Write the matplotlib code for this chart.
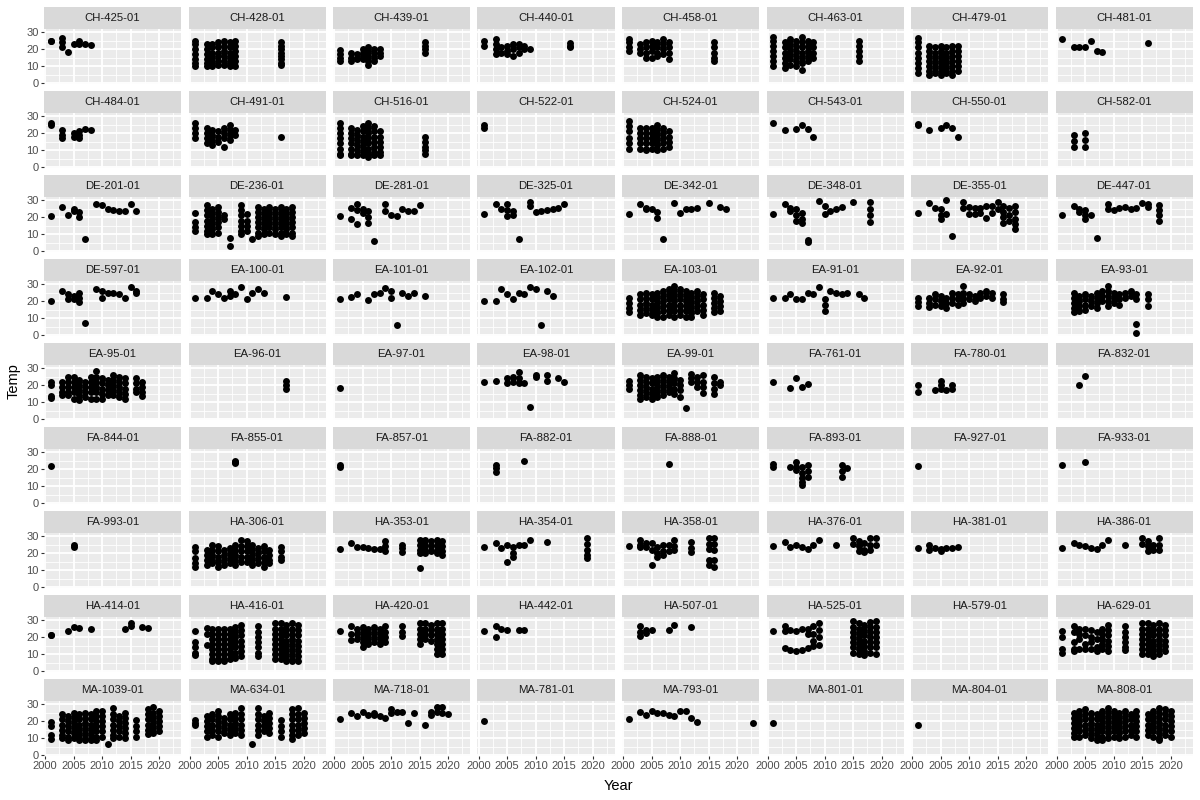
import matplotlib
matplotlib.use("Agg")
import matplotlib.pyplot as plt

# each site: list of (year, [temps measured that year])
ch_425 = [(2001, [25, 24.5]), (2003, [26.5, 24, 21.5]), (2004, [18.6]), (2005, [23]), (2006, [25, 23]), (2007, [23]), (2008, [22.5])]
ch_428 = [(2001, [25, 23, 20, 17, 14, 12, 10]), (2003, [23, 20, 17, 14, 12, 10]), (2004, [23, 21, 18, 15, 12, 10]), (2005, [24, 21, 18, 16, 13, 11]),
          (2006, [25, 22, 19, 16, 13, 11]), (2007, [24, 21, 18, 15, 12, 10]), (2008, [25, 22, 19, 16, 13, 10]), (2016, [24, 22, 20, 18, 16, 14, 12, 11])]
ch_439 = [(2001, [19.5, 17, 15, 13]), (2003, [18, 15, 13]), (2004, [17, 15, 14]), (2005, [20, 18, 16, 14]), (2006, [21, 19, 16, 13, 11]),
          (2007, [20, 18, 15, 13]), (2008, [20, 18, 16]), (2016, [24, 22, 20, 18])]
ch_440 = [(2001, [25, 22]), (2003, [26, 23, 20, 17]), (2004, [21, 18]), (2005, [22, 19, 17]), (2006, [23, 20, 16]), (2007, [23, 21, 18]),
          (2008, [22, 20]), (2009, [20]), (2016, [23.5, 22, 21])]
ch_458 = [(2001, [26, 24, 21, 19]), (2003, [23, 20, 18]), (2004, [24, 21, 18, 15]), (2005, [25, 22, 19, 15]), (2006, [24, 21, 18, 16]),
          (2007, [26, 23, 20, 17]), (2008, [24, 21, 18, 14]), (2016, [24, 21, 18, 15, 13])]
ch_463 = [(2001, [27, 25, 22, 19, 16, 13, 10]), (2003, [24, 21, 18, 15, 12, 9]), (2004, [26, 23, 20, 17, 14, 11]), (2005, [25, 22, 19, 16, 13, 10]),
          (2006, [27, 24, 21, 18, 15, 12, 8]), (2007, [25, 22, 19, 16, 13]), (2008, [24, 21, 18, 15]), (2016, [25, 22, 19, 16, 13])]
ch_479 = [(2001, [26.5, 24, 21, 18, 15, 12, 9, 6]), (2003, [22, 19, 16, 13, 10, 7, 5]), (2004, [21, 18, 15, 12, 9, 6]), (2005, [22, 19, 16, 13, 10, 7, 5]),
          (2006, [21, 18, 15, 12, 9, 6]), (2007, [22, 19, 16, 13, 10, 7, 5]), (2008, [22, 19, 16, 13, 10, 7])]
ch_481 = [(2001, [26]), (2003, [21.5]), (2004, [21]), (2005, [21.5]), (2006, [25]), (2007, [19]), (2008, [18.6]), (2016, [23.5])]

ch_484 = [(2001, [26, 24.5]), (2003, [22, 19, 17]), (2005, [20, 18]), (2006, [21, 19, 17]), (2007, [22.5]), (2008, [21.7])]
ch_491 = [(2001, [26, 23, 20, 17]), (2003, [23, 20, 17, 14]), (2004, [22, 19, 16, 13]), (2005, [21, 18, 15]), (2006, [23, 20, 17, 12]),
          (2007, [25, 22, 19, 16]), (2008, [22, 19]), (2016, [18])]
ch_516 = [(2001, [26, 23, 20, 17, 14, 11, 8, 7]), (2003, [23, 20, 17, 14, 11, 8, 7]), (2004, [22, 19, 16, 13, 10, 7]), (2005, [24, 21, 18, 15, 12, 9, 7]),
          (2006, [26, 23, 20, 17, 14, 11, 8, 6]), (2007, [24, 21, 18, 15, 12, 9, 7]), (2008, [21, 18, 15, 12, 9, 7]), (2016, [18, 15, 12, 10, 8])]
ch_522 = [(2001, [24.5, 23])]
ch_524 = [(2001, [27, 24, 21, 17, 14, 11]), (2003, [23, 20, 17, 14, 11]), (2004, [23, 20, 17, 14, 11, 10]), (2005, [23, 20, 17, 14, 11]),
          (2006, [25, 22, 19, 16, 13, 10]), (2007, [23, 20, 17, 14, 11]), (2008, [21, 18, 15, 12])]
ch_543 = [(2001, [26]), (2003, [21.7]), (2005, [22.7]), (2006, [25]), (2007, [22.5]), (2008, [18])]
ch_550 = [(2001, [25.6, 25]), (2003, [21.7]), (2005, [23]), (2006, [25]), (2007, [23]), (2008, [18])]
ch_582 = [(2003, [19, 15.5, 12]), (2005, [20, 16, 12])]

de_201 = [(2001, [20.7]), (2003, [26.2]), (2004, [21]), (2005, [24.6, 23.7]), (2006, [23, 20.3]), (2007, [7.5]), (2009, [27.6]), (2010, [27]),
          (2011, [24.6]), (2012, [24.2]), (2013, [23.7]), (2014, [23.5]), (2015, [27.6]), (2016, [23.7])]
de_236 = [(2001, [22.7, 17, 14, 12]), (2003, [27, 24, 21, 18, 15, 12, 10]), (2004, [25, 22, 19, 16, 13, 10]), (2005, [26, 23, 20, 17, 14, 11]),
          (2006, [21, 19]), (2007, [8, 3]), (2009, [27, 24, 21, 18, 15, 12, 10]), (2010, [22, 18, 15, 12]), (2011, [7]),
          (2012, [26, 23, 20, 17, 14, 11, 9]), (2013, [25, 22, 19, 16, 13, 10]), (2014, [26, 23, 20, 17, 14, 11]), (2015, [25, 22, 19, 16, 13, 10]),
          (2016, [26, 23, 20, 17, 14, 11, 9]), (2017, [25, 22, 19, 16, 13, 10]), (2018, [26, 23, 20, 17, 14, 11, 9])]
de_281 = [(2001, [20.7]), (2003, [25.6, 18.7]), (2004, [27.6, 24, 16]), (2005, [24.6, 22.7]), (2006, [23.7, 20, 16.8]), (2007, [6.3]),
          (2009, [27.6, 23.7]), (2010, [21]), (2011, [20.7]), (2012, [25]), (2013, [23.7]), (2014, [23.7]), (2015, [27])]
de_325 = [(2001, [21.7]), (2003, [27.6]), (2004, [24.6]), (2005, [27.6, 24, 20.7]), (2006, [23.5, 21]), (2007, [7.5]), (2009, [28.6, 26.6]),
          (2010, [23]), (2011, [23.7]), (2012, [24]), (2013, [24.6]), (2014, [25.6]), (2015, [27.6])]
de_342 = [(2001, [21.7]), (2003, [27.6]), (2004, [25.6, 24.6]), (2005, [24.6]), (2006, [23, 19.7]), (2007, [7.3]), (2009, [28]), (2010, [22.7]),
          (2011, [24.6]), (2012, [25]), (2013, [25.6]), (2015, [28]), (2017, [26.2]), (2018, [25])]
de_348 = [(2001, [21.7]), (2003, [27.6]), (2004, [25.6, 23.7]), (2005, [24.6, 21, 17.8]), (2006, [22.7, 19, 16.8]), (2007, [6.9, 5.5]),
          (2009, [29.6]), (2010, [26.6, 21.7]), (2011, [23.7]), (2012, [25]), (2013, [26]), (2015, [28.6]), (2018, [29, 25, 21, 17])]
de_355 = [(2001, [22.7]), (2003, [28.2]), (2004, [25.6]), (2005, [24.6, 21.5, 18.7]), (2006, [30, 21.7]), (2007, [8.9]), (2009, [28.6, 25.6]),
          (2010, [26, 21.7]), (2011, [25.6, 21.7]), (2012, [25.6, 22.7]), (2013, [26.6, 19.7]), (2014, [26.6, 22.7]), (2015, [28.6, 24.6]),
          (2016, [26.6, 23, 20, 16.8]), (2017, [25.6, 21.5, 17.8]), (2018, [26.6, 23, 19, 16, 12.8])]
de_447 = [(2001, [21.3]), (2003, [26.7]), (2004, [25, 23]), (2005, [24, 21, 19]), (2006, [21.3]), (2007, [8]), (2009, [27.5, 25]), (2010, [24]),
          (2011, [25.5]), (2012, [26.2]), (2013, [25]), (2014, [25.5]), (2015, [28]), (2016, [27.5, 26]), (2018, [27, 24, 21, 17.5])]

de_597 = [(2001, [19.9]), (2003, [26]), (2004, [24, 21]), (2005, [23, 21.5]), (2006, [25, 22, 19.3]), (2007, [7.2]), (2009, [27]), (2010, [26, 22]),
          (2011, [25]), (2012, [25]), (2013, [24]), (2014, [22]), (2015, [28]), (2016, [26, 24.5])]
ea_100 = [(2001, [21.8]), (2003, [22]), (2004, [26]), (2005, [24]), (2006, [21.8]), (2007, [26, 23]), (2008, [24]), (2009, [28]), (2010, [21.5]),
          (2011, [24.7]), (2012, [27]), (2013, [25]), (2017, [22.2])]
ea_101 = [(2001, [21.2]), (2003, [22.2]), (2004, [24]), (2006, [20.8]), (2007, [24]), (2008, [25]), (2009, [27.5]), (2010, [26, 22]), (2011, [6.2]),
          (2012, [25]), (2013, [23]), (2014, [25]), (2016, [23])]
ea_102 = [(2001, [20.3]), (2003, [20.3]), (2004, [27]), (2005, [24]), (2006, [21.2]), (2007, [24.7]), (2008, [24]), (2009, [28]), (2010, [27]),
          (2011, [6]), (2012, [26]), (2013, [23])]
ea_103 = [(2001, [22, 19, 16, 13.5]), (2003, [24, 21, 18, 15, 12]), (2004, [25, 22, 19, 16, 13]), (2005, [24, 21, 18, 15, 12]),
          (2006, [25, 22, 19, 16, 13, 11]), (2007, [26, 23, 20, 17, 14, 11]), (2008, [27, 24, 21, 18, 15, 12]), (2009, [29, 26, 23, 20, 17, 14, 11]),
          (2010, [27, 24, 21, 18, 15, 12]), (2011, [26, 23, 20, 17, 14, 11]), (2012, [25, 22, 19, 16, 13, 10.5]), (2013, [26, 23, 20, 17, 14]),
          (2014, [24, 21, 18, 15, 12]), (2016, [25, 22, 19, 16, 13.5]), (2017, [23, 20, 17, 14])]
ea_91 = [(2001, [22]), (2003, [22]), (2004, [24]), (2005, [21]), (2006, [21.5]), (2007, [24.7]), (2008, [24]), (2009, [28]), (2010, [21, 18, 14]),
         (2011, [26]), (2012, [24.7]), (2013, [24]), (2014, [24.7]), (2016, [24]), (2017, [21.6])]
ea_92 = [(2001, [22, 19.5, 17.3]), (2003, [22, 19, 16.4]), (2004, [24, 21, 18]), (2005, [23, 20, 17]), (2006, [22, 19, 16]), (2007, [25, 22, 19]),
         (2008, [24, 21, 18]), (2009, [29, 25, 22, 19]), (2010, [24, 21]), (2011, [23, 20]), (2012, [25, 22]), (2013, [26, 23]), (2014, [25, 22]),
         (2016, [24, 21.5, 19.3])]
ea_93 = [(2003, [25, 22, 19, 16, 13.5]), (2004, [23, 20, 17, 14]), (2005, [24, 21, 18, 15]), (2006, [23, 20, 17]), (2007, [25, 22, 19, 16]),
         (2008, [26, 23, 20]), (2009, [29, 26, 23, 20, 17]), (2010, [25, 22, 19]), (2011, [24, 21, 18]), (2012, [25, 22]), (2013, [26, 23]),
         (2014, [24, 21, 6.6, 1.2]), (2016, [24, 21, 17.3])]

ea_95 = [(2001, [22, 20, 13.5, 12.5]), (2003, [22, 19, 16, 14]), (2004, [25, 22, 19, 16, 14]), (2005, [25, 22, 19, 16, 12]), (2006, [23, 20, 17, 14, 11.5]),
         (2007, [22, 19, 16, 13]), (2008, [25, 22, 19, 16, 12]), (2009, [28, 25, 22, 19, 16, 12]), (2010, [24, 21, 18, 15, 12]), (2011, [23, 20, 17, 14]),
         (2012, [26, 23, 20, 17, 14]), (2013, [25, 22, 19, 16, 13]), (2014, [24, 21, 18, 15, 12]), (2016, [24, 21, 18, 16]), (2017, [22, 19, 16, 13.5])]
ea_96 = [(2017, [22.5, 20, 18])]
ea_97 = [(2001, [18.4])]
ea_98 = [(2001, [22]), (2003, [22.7]), (2005, [24, 21]), (2006, [25, 22]), (2007, [27.6, 24, 21]), (2008, [21]), (2009, [7.1]), (2010, [26, 25]),
         (2012, [25.7, 22.7]), (2014, [24]), (2015, [21.8])]
ea_99 = [(2001, [22.7, 20, 17.8]), (2003, [26, 23, 20, 17, 14, 12]), (2004, [25, 22, 19, 16, 13]), (2005, [24, 21, 18, 15, 12]), (2006, [25, 22, 19, 16, 13]),
         (2007, [26, 23, 20, 17, 14]), (2008, [25, 22, 19, 16]), (2009, [27, 24, 21, 18, 15]), (2010, [23, 20, 17, 13]), (2011, [6.7]),
         (2012, [26.6, 24, 21.8]), (2013, [25, 22, 19]), (2014, [26, 22, 19, 15.5]), (2016, [24.7, 21, 18, 14.9]), (2017, [22, 20])]
fa_761 = [(2001, [21.8]), (2004, [18.4]), (2005, [24]), (2006, [18.8]), (2007, [20.8])]
fa_780 = [(2001, [19.8, 16]), (2004, [17]), (2005, [22.7, 20, 17.8]), (2006, [17]), (2007, [19.8, 17.8])]
fa_832 = [(2004, [20.2]), (2005, [25.1])]

fa_844 = [(2001, [21.7])]
fa_855 = [(2008, [25, 24, 23.5])]
fa_857 = [(2001, [22.3, 21])]
fa_882 = [(2003, [22.3, 20.5, 18.4]), (2008, [24.8])]
fa_888 = [(2008, [23])]
fa_893 = [(2001, [23.3, 21.5]), (2004, [21]), (2005, [24.3, 21, 19.4]), (2006, [21.4, 18, 15, 12.5, 10.7]), (2007, [22.3, 19, 15.5]),
          (2013, [22.3, 19, 15.5]), (2014, [20.4])]
fa_927 = [(2001, [21.7])]
fa_933 = [(2001, [22.7]), (2005, [24.3])]

fa_993 = [(2005, [25, 23.5])]
ha_306 = [(2001, [23.7, 21, 17, 14, 12]), (2003, [22, 19, 16, 13]), (2004, [25, 22, 19, 16, 14]), (2005, [24, 21, 18, 15, 12]), (2006, [22, 19, 16, 13]),
          (2007, [23, 20, 17, 14]), (2008, [25, 22, 19, 16, 13]), (2009, [27.6, 24, 21, 18, 15]), (2010, [27, 24, 21, 18, 15]), (2011, [25, 22, 19, 16, 13]),
          (2012, [23, 20, 17, 14]), (2013, [24, 21, 18, 15, 12]), (2014, [22, 19, 16, 14]), (2016, [23.7, 21, 18, 15.9])]
ha_353 = [(2001, [22.7]), (2003, [25.7]), (2004, [23.7]), (2005, [23.7]), (2006, [23]), (2007, [22.2]), (2008, [22.2]), (2009, [27, 24, 21]),
          (2012, [25, 23, 20.8]), (2015, [27.6, 25, 22, 19.8, 11.4]), (2016, [27.6, 25, 22, 19.8]), (2017, [27, 24, 21]), (2018, [27.6, 25, 22, 20]),
          (2019, [27, 24, 21, 18.8])]
ha_354 = [(2001, [23.7]), (2003, [25.7]), (2004, [23.1]), (2005, [25, 15]), (2006, [23.7, 20, 17.8]), (2007, [24.7]), (2008, [25]), (2009, [27.6]),
          (2012, [26.3]), (2019, [28.6, 25.5, 22, 19, 16.9])]
ha_358 = [(2001, [24]), (2003, [27.6, 25, 23.7]), (2004, [25.7, 23.7]), (2005, [25.7, 22, 12.9]), (2006, [23.7, 20, 17.8]), (2007, [24.7, 21, 18.8]),
          (2008, [24.7, 21]), (2009, [27.6, 24, 21.8]), (2012, [26.6, 23, 20.8]), (2015, [28.6, 25.5, 22.5, 15.9, 13]), (2016, [28.6, 25.5, 22, 16, 12])]
ha_376 = [(2001, [24.3]), (2003, [26.7]), (2004, [23.7]), (2005, [25]), (2006, [23.7]), (2007, [22.4]), (2008, [25]), (2009, [27.6]), (2012, [25]),
          (2015, [28.6, 25.5]), (2016, [27, 24, 21]), (2017, [26, 22, 20.8]), (2018, [28.6, 25, 22]), (2019, [28.6, 25])]
ha_381 = [(2001, [23.3]), (2003, [25, 21.8]), (2004, [23]), (2005, [22.5, 21.5]), (2006, [23]), (2007, [23]), (2008, [23.7])]
ha_386 = [(2001, [23.1]), (2003, [25.7]), (2004, [24.7]), (2005, [24.3]), (2006, [23.1]), (2007, [22.2]), (2008, [24.7]), (2009, [27.6]), (2012, [25]),
          (2015, [28.6, 25.5]), (2016, [27, 24, 21]), (2017, [25, 22]), (2018, [28.6, 25, 22])]

ha_414 = [(2001, [21.5, 21]), (2004, [23.8]), (2005, [25.8]), (2006, [25.4]), (2008, [25]), (2014, [25]), (2015, [28.3, 26.4]), (2017, [25.8]), (2018, [25.4])]
ha_416 = [(2001, [23.4, 17, 14, 11, 9.8]), (2003, [25.5, 22, 15.5]), (2004, [25, 22, 19, 16, 13, 10, 7.5, 6]), (2005, [25, 22, 19, 16, 13, 10, 7, 5.9]),
          (2006, [25, 22, 19, 16, 13, 10, 7, 6]), (2007, [25, 22, 19, 16, 13, 10, 7]), (2008, [26, 23, 20, 17, 14, 11, 8]), (2009, [27, 24, 21, 18, 15, 12, 9]),
          (2012, [26.4, 23, 20, 17, 14, 11, 8.8]), (2015, [28.3, 25, 22, 19, 16, 13, 10, 7]), (2016, [28, 25, 22, 19, 16, 13, 10, 7]),
          (2017, [27, 24, 21, 18, 15, 12, 9, 6]), (2018, [28.3, 25, 22, 19, 16, 13, 10, 7, 5.9]), (2019, [27, 24, 21, 18, 15, 12, 9, 6])]
ha_420 = [(2001, [23.4]), (2003, [26.4, 22, 18.6]), (2004, [25, 22, 19]), (2005, [26, 23, 20, 17, 14]), (2006, [25, 22, 19, 16]), (2007, [26, 23, 20, 17]),
          (2008, [25, 22, 19, 16]), (2009, [26.4, 23, 20, 17]), (2012, [26.4, 23, 20.5]), (2015, [28.3, 25, 22, 19, 16]), (2016, [28, 25, 22, 19]),
          (2017, [27, 24, 21, 18]), (2018, [28.3, 25, 22, 19, 16, 13, 10]), (2019, [28, 25, 22, 19, 16, 13, 10])]
ha_442 = [(2001, [23.8]), (2003, [26.4, 19.9]), (2004, [25]), (2005, [24.4]), (2007, [24]), (2008, [24])]
ha_507 = [(2003, [26.4, 23, 20.5]), (2004, [24.4, 22.5]), (2005, [24.4]), (2008, [24.4]), (2009, [27]), (2012, [25.8])]
ha_525 = [(2001, [23.4]), (2003, [26.4, 23.5, 13.7]), (2004, [24.4, 12.7]), (2005, [23.4, 11.7]), (2006, [24.5, 12.7]), (2007, [25, 22, 13.7]),
          (2008, [26.4, 22, 18, 14.6]), (2009, [28.3, 24, 20, 15.6]), (2015, [29.3, 26, 23, 20, 17, 14, 11]), (2016, [28, 25, 22, 19, 16, 13, 10]),
          (2017, [27, 24, 21, 18, 15, 12, 9.8]), (2018, [29, 26, 23, 20, 17, 14, 11]), (2019, [29.3, 26, 23, 20, 17, 14, 10])]
ha_579 = []
ha_629 = [(2001, [23.4, 20, 13, 10.7]), (2003, [26.4, 23, 17, 13, 11.7]), (2004, [25, 22, 19, 13]), (2005, [25, 21, 16, 13]), (2006, [24, 20, 17, 13]),
          (2007, [23, 19, 14, 12]), (2008, [25, 22, 19, 16, 13]), (2009, [27, 24, 21, 18, 15, 12]), (2012, [26.4, 23, 20, 17, 14, 12.7]),
          (2015, [28.3, 25, 22, 19, 16, 13, 10]), (2016, [28, 25, 22, 19, 16, 13, 10]), (2017, [27, 24, 21, 18, 15, 12, 8.8]),
          (2018, [28, 25, 22, 19, 16, 13, 10]), (2019, [27, 24, 21, 18, 15, 12])]

ma_1039 = [(2001, [19.6, 17, 12, 9.8]), (2003, [24, 21, 18, 15, 12, 10]), (2004, [23, 20, 17, 14, 11, 9]), (2005, [25, 22, 19, 16, 13, 10]),
           (2006, [24, 21, 18, 15, 12, 9]), (2007, [25, 22, 19, 16, 13, 10, 8.8]), (2008, [24, 21, 18, 15, 12, 9]), (2009, [26, 23, 20, 17, 14, 11, 9]),
           (2010, [26, 23, 20, 17, 14, 11]), (2011, [6.9]), (2012, [27.5, 24, 21, 18, 15, 12, 10]), (2013, [23, 20, 17, 14, 11]),
           (2014, [25, 22, 19, 16, 13, 10]), (2016, [20.6, 17, 14, 11]), (2018, [27, 24, 21, 18, 15, 12.7]), (2019, [28.4, 25, 22, 19, 16, 13]),
           (2020, [26, 23, 20, 17, 14])]
ma_634 = [(2001, [20.6, 19, 17.6]), (2003, [23, 20, 17, 14, 11]), (2004, [24, 21, 18, 15, 12]), (2005, [26, 23, 20, 17, 14, 11]), (2006, [22, 19, 16, 13]),
          (2007, [24, 21, 18, 15, 12]), (2008, [25, 22, 19, 16, 13]), (2009, [27.8, 24, 21, 18, 15, 12]), (2011, [6.9]), (2012, [27.5, 24, 21, 18, 15, 12]),
          (2013, [23, 20, 17, 14]), (2014, [25, 22, 19, 16, 13]), (2016, [20.6, 17, 14, 11]), (2018, [27, 24, 21, 18, 15, 12, 9.8]),
          (2019, [27.8, 24, 21, 18, 15, 12]), (2020, [25, 22, 19, 16, 13])]
ma_718 = [(2001, [21]), (2003, [24.5]), (2004, [23]), (2005, [25.5]), (2006, [23.5]), (2007, [24.5, 23.5]), (2008, [23]), (2009, [21.6]), (2010, [27, 24.5]),
          (2011, [25.5]), (2012, [25.5]), (2013, [19]), (2014, [24.5]), (2016, [17.6]), (2017, [25.5, 23.5]), (2018, [28.4, 25.5]), (2019, [28.4, 24.5]),
          (2020, [24])]
ma_781 = [(2001, [20])]
ma_793 = [(2001, [21.2]), (2003, [25.5]), (2004, [23.5]), (2005, [26]), (2006, [24.5]), (2007, [24.5]), (2008, [23.5]), (2009, [23]), (2010, [26]),
          (2011, [26]), (2012, [22]), (2013, [19.6]), (2022.8, [19])]
ma_801 = [(2001, [19])]
ma_804 = [(2001, [18])]
ma_808 = [(2003, [25, 22, 19, 16, 13, 11]), (2004, [26, 23, 20, 17, 14, 11]), (2005, [27, 24, 21, 18, 15, 12]), (2006, [25, 22, 19, 16, 13, 10]),
          (2007, [24, 21, 18, 15, 12, 9]), (2008, [26, 23, 20, 17, 14, 11, 9]), (2009, [27.8, 25, 22, 19, 16, 13, 10]), (2010, [26, 23, 20, 17, 14, 11]),
          (2011, [25, 22, 19, 16, 13, 10]), (2012, [26, 23, 20, 17, 14, 11]), (2013, [24, 21, 18, 15, 12]), (2014, [26, 23, 20, 17, 14, 11]),
          (2016, [24, 21, 18, 15, 12]), (2017, [26, 23, 20, 17, 14, 11]), (2018, [27.8, 25, 22, 19, 16, 13, 10, 8.8]), (2019, [27, 24, 21, 18, 15, 12]),
          (2020, [26, 23, 20, 17, 14, 11])]

sites = ["CH-425-01", "CH-428-01", "CH-439-01", "CH-440-01", "CH-458-01", "CH-463-01", "CH-479-01", "CH-481-01",
         "CH-484-01", "CH-491-01", "CH-516-01", "CH-522-01", "CH-524-01", "CH-543-01", "CH-550-01", "CH-582-01",
         "DE-201-01", "DE-236-01", "DE-281-01", "DE-325-01", "DE-342-01", "DE-348-01", "DE-355-01", "DE-447-01",
         "DE-597-01", "EA-100-01", "EA-101-01", "EA-102-01", "EA-103-01", "EA-91-01", "EA-92-01", "EA-93-01",
         "EA-95-01", "EA-96-01", "EA-97-01", "EA-98-01", "EA-99-01", "FA-761-01", "FA-780-01", "FA-832-01",
         "FA-844-01", "FA-855-01", "FA-857-01", "FA-882-01", "FA-888-01", "FA-893-01", "FA-927-01", "FA-933-01",
         "FA-993-01", "HA-306-01", "HA-353-01", "HA-354-01", "HA-358-01", "HA-376-01", "HA-381-01", "HA-386-01",
         "HA-414-01", "HA-416-01", "HA-420-01", "HA-442-01", "HA-507-01", "HA-525-01", "HA-579-01", "HA-629-01",
         "MA-1039-01", "MA-634-01", "MA-718-01", "MA-781-01", "MA-793-01", "MA-801-01", "MA-804-01", "MA-808-01"]
site_data = [ch_425, ch_428, ch_439, ch_440, ch_458, ch_463, ch_479, ch_481,
             ch_484, ch_491, ch_516, ch_522, ch_524, ch_543, ch_550, ch_582,
             de_201, de_236, de_281, de_325, de_342, de_348, de_355, de_447,
             de_597, ea_100, ea_101, ea_102, ea_103, ea_91, ea_92, ea_93,
             ea_95, ea_96, ea_97, ea_98, ea_99, fa_761, fa_780, fa_832,
             fa_844, fa_855, fa_857, fa_882, fa_888, fa_893, fa_927, fa_933,
             fa_993, ha_306, ha_353, ha_354, ha_358, ha_376, ha_381, ha_386,
             ha_414, ha_416, ha_420, ha_442, ha_507, ha_525, ha_579, ha_629,
             ma_1039, ma_634, ma_718, ma_781, ma_793, ma_801, ma_804, ma_808]

year_ticks = [2000, 2005, 2010, 2015, 2020]
temp_ticks = [0, 10, 20, 30]

plt.rcParams['font.family'] = ['Liberation Sans', 'DejaVu Sans']

W, H = 1200, 800
fig = plt.figure(figsize=(W / 100, H / 100), dpi=100)

ncol = 8
nrow = 9
for i, (name, cols) in enumerate(zip(sites, site_data)):
    r, c = divmod(i, ncol)
    left = 44 + c * 144.5
    pw = 137
    strip_top = 6.7 + 84 * r
    panel_top = 29 + 84 * r
    ph = 55

    # strip label
    sax = fig.add_axes([left / W, 1 - panel_top / H, pw / W, (panel_top - strip_top) / H])
    sax.set_facecolor('#D9D9D9')
    sax.set_xticks([])
    sax.set_yticks([])
    for s in sax.spines.values():
        s.set_visible(False)
    sax.text(0.5, 0.5, name, ha='center', va='center', fontsize=8.2,
             color='#1A1A1A', transform=sax.transAxes)

    ax = fig.add_axes([left / W, 1 - (panel_top + ph) / H, pw / W, ph / H])
    ax.set_facecolor('#EBEBEB')
    for s in ax.spines.values():
        s.set_visible(False)
    ax.set_xlim(1999.8, 2023.85)
    ax.set_ylim(-0.4, 31.8)
    ax.set_xticks(year_ticks)
    ax.set_yticks(temp_ticks)
    ax.set_xticks([2002.5, 2007.5, 2012.5, 2017.5, 2022.5], minor=True)
    ax.set_yticks([5, 15, 25], minor=True)
    ax.grid(which='major', color='white', linewidth=1.3)
    ax.grid(which='minor', color='white', linewidth=0.6)
    ax.set_axisbelow(True)
    ax.tick_params(which='minor', length=0)
    ax.tick_params(which='major', length=2.4, width=0.8, color='#333333',
                   labelsize=8, labelcolor='#4D4D4D', pad=1.5)
    if c != 0:
        ax.tick_params(axis='y', which='major', length=0, labelleft=False)
    if r != nrow - 1:
        ax.tick_params(axis='x', which='major', length=0, labelbottom=False)
    else:
        ax.set_xticklabels([str(y) for y in year_ticks])

    xs, ys = [], []
    for year, temps in cols:
        for t in temps:
            xs.append(year)
            ys.append(t)
    if xs:
        ax.scatter(xs, ys, s=25, color='black', linewidths=0, zorder=3)

fig.text((44 + 1192.5) / 2 / W, 1 - 786 / H, 'Year', ha='center', va='center', fontsize=10.5)
fig.text(14 / W, 1 - 381 / H, 'Temp', ha='center', va='center', rotation=90, fontsize=10.5)

fig.savefig('out.png', dpi=100)
